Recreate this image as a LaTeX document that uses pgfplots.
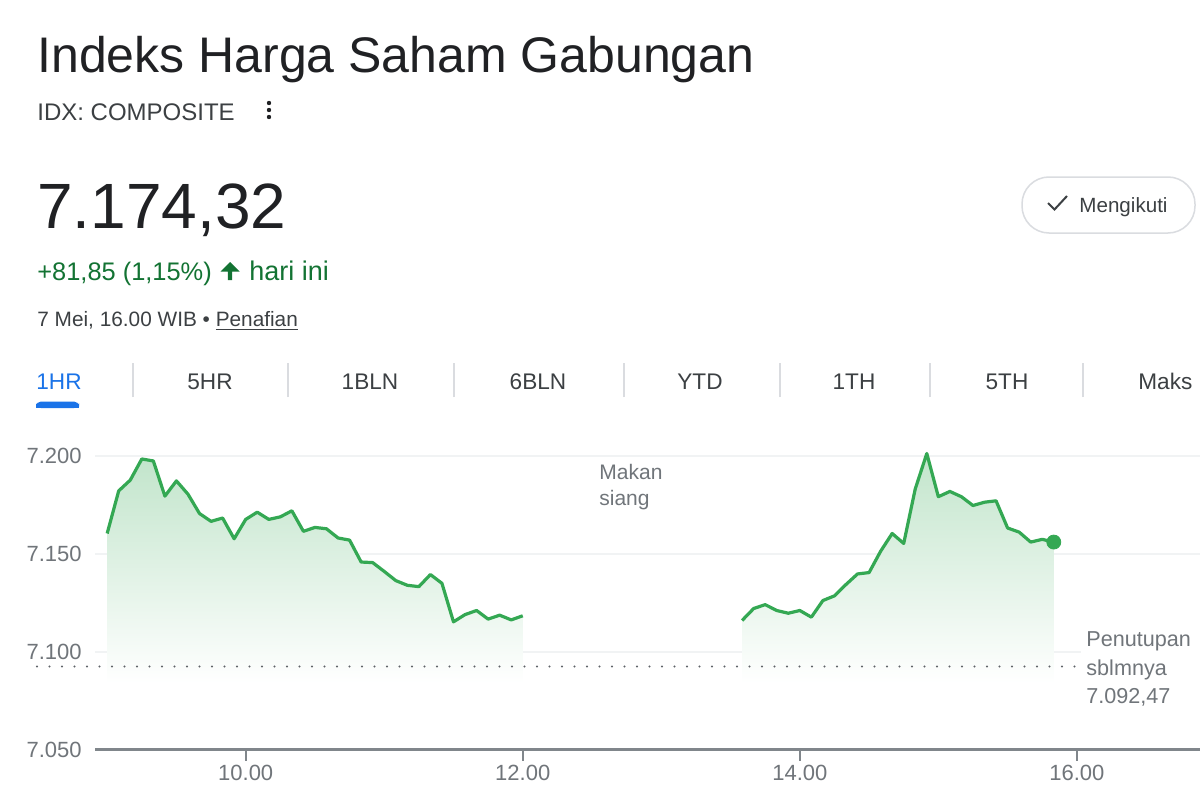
\documentclass[border=0pt]{standalone}
\usepackage{pgfplots}
\pgfplotsset{compat=1.18}
\usepackage{pgfplotstable}
\usepackage{fontspec}
\setmainfont{Liberation Sans}
\definecolor{gtitle}{HTML}{202124}
\definecolor{gdark}{HTML}{3C4043}
\definecolor{ggray}{HTML}{70757A}
\definecolor{gaxis}{HTML}{80868B}
\definecolor{ggreen}{HTML}{34A853}
\definecolor{gtextgreen}{HTML}{137333}
\definecolor{gblue}{HTML}{1A73E8}
\definecolor{gsep}{HTML}{DADCE0}
\definecolor{ggrid}{HTML}{F1F3F4}
\definecolor{gdot}{HTML}{5F6368}
\newcommand{\fs}[1]{\fontsize{#1}{#1}\selectfont}

% time in minutes since midnight, index value
\pgfplotstableread{
t v
540 7160.5
545 7182.3
550 7187.8
555 7198.6
560 7197.6
565 7179.6
570 7187.4
575 7180.6
580 7170.7
585 7166.7
590 7168.4
595 7157.8
600 7167.7
605 7171.4
610 7167.7
615 7169.0
620 7172.1
625 7161.6
630 7163.6
635 7162.9
640 7158.2
645 7157.1
650 7145.9
655 7145.6
660 7141.1
665 7136.4
670 7134.0
675 7133.3
680 7139.5
685 7135.0
690 7115.3
695 7119.0
700 7121.1
705 7116.7
710 7118.7
715 7116.3
720 7118.4
}\morning

\pgfplotstableread{
t v
815 7116.0
820 7122.1
825 7124.1
830 7121.1
835 7119.7
840 7121.1
845 7117.7
850 7126.2
855 7128.6
860 7134.4
865 7139.8
870 7140.5
875 7151.4
880 7160.5
885 7155.4
890 7183.3
895 7201.4
900 7179.3
905 7182.0
910 7179.3
915 7174.8
920 7176.5
925 7177.2
930 7163.3
935 7161.2
940 7156.1
945 7157.5
950 7156.1
}\afternoon

\begin{document}
\begin{tikzpicture}[x=0.5pt,y=0.5pt]
\fill[white] (0,0) rectangle (1200,800);
\path[use as bounding box] (0,0) rectangle (1200,800);

% header
\node[anchor=base west, inner sep=0, text=gtitle] at (37,727) {\fs{25pt}Indeks Harga Saham Gabungan};
\node[anchor=base west, inner sep=0, text=gdark] at (37,680) {\fs{12pt}IDX: COMPOSITE};
\foreach \yy in {697,690,683} \fill[gtitle] (269,\yy) circle (2.2);
\node[anchor=base west, inner sep=0, text=gtitle] at (37,572) {\fs{32pt}7.174,32};
\node[anchor=base west, inner sep=0, text=gtextgreen] at (37,520) {\fs{12.7pt}+81,85 (1,15\%)};
\fill[gtextgreen] (230,538) -- (239.5,528.5) -- (232.2,528.5) -- (232.2,520) -- (227.8,520) -- (227.8,528.5) -- (220.5,528.5) -- cycle;
\node[anchor=base west, inner sep=0, text=gtextgreen] at (249,520) {\fs{13.5pt}hari ini};
\node[anchor=base west, inner sep=0, text=gdark] at (37,474) {\fs{10.4pt}7 Mei, 16.00 WIB \textbullet{} \underline{Penafian}};

% follow button
\draw[gsep, line width=0.75pt, rounded corners=13.5pt] (1022,567) rectangle (1195,623);
\draw[gdark, line width=1pt] (1048,597) -- (1054.5,590.5) -- (1067,604);
\node[anchor=base west, inner sep=0, text=gdark] at (1079,588) {\fs{10.3pt}Mengikuti};

% tabs
\node[anchor=base west, inner sep=0, text=gblue] at (36,411) {\fs{11.3pt}1HR};
\foreach \xx/\lab in {210/5HR,370/1BLN,538/6BLN,700/YTD,854/1TH,1007/5TH}
  \node[anchor=base, inner sep=0, text=gdark] at (\xx,411) {\fs{11.3pt}\lab};
\node[anchor=base west, inner sep=0, text=gdark] at (1138,411) {\fs{11.3pt}Maks};
\foreach \xx in {133,288,454,624,780,930,1083}
  \draw[gsep, line width=0.75pt] (\xx,403) -- (\xx,437);
\fill[gblue, rounded corners=2.5pt] (36,392) rectangle (79,398.5);
\fill[gblue] (36,392) rectangle (79,395);

% chart
\begin{axis}[
  at={(47.5pt,25.25pt)}, anchor=south west,
  scale only axis, width=552.5pt, height=156.4pt,
  xmin=534.73, xmax=1013.33, ymin=7050, ymax=7210,
  clip=false,
  axis x line=bottom, axis y line=left,
  x axis line style={-, draw=gaxis, line width=1.2pt},
  y axis line style={draw=none},
  xtick={600,720,840,960},
  xticklabels={10.00,12.00,14.00,16.00},
  ytick={7050,7100,7150,7200},
  yticklabels={7.050,7.100,7.150,7.200},
  tick align=outside,
  major tick length=5.5pt,
  xtick style={draw=gaxis, line width=1pt},
  ytick style={draw=none},
  ticklabel style={font=\fs{11pt}, text=ggray},
  yticklabel style={anchor=east, inner sep=0pt, xshift=-1pt},
  xticklabel style={anchor=north, inner sep=0pt, yshift=-2pt},
  ymajorgrids, major grid style={draw=ggrid, line width=1pt},
]
\addplot[draw=none, top color=ggreen!30!white, bottom color=white]
  table[x=t, y=v] {\morning} -- (axis cs:720,7084) -- (axis cs:540,7084) -- cycle;
\addplot[draw=none, top color=ggreen!30!white, bottom color=white]
  table[x=t, y=v] {\afternoon} -- (axis cs:950,7084) -- (axis cs:815,7084) -- cycle;
\addplot[gdot, line width=1.2pt, line cap=round, dash pattern=on 0pt off 6.25pt]
  coordinates {(509.6,7092.47) (959,7092.47)};
\addplot[ggreen, line width=1.6pt, line join=round] table[x=t, y=v] {\morning};
\addplot[ggreen, line width=1.6pt, line join=round] table[x=t, y=v] {\afternoon};
\addplot[only marks, mark=*, mark size=3.5pt, ggreen] coordinates {(950,7156.1)};
\end{axis}

% annotations
\fill[white] (1081,88) rectangle (1200,175);
\node[anchor=base west, inner sep=0, text=ggray] at (599,321) {\fs{10.5pt}Makan};
\node[anchor=base west, inner sep=0, text=ggray] at (599,295) {\fs{10.5pt}siang};
\node[anchor=base west, inner sep=0, text=ggray] at (1086,154) {\fs{10.8pt}Penutupan};
\node[anchor=base west, inner sep=0, text=ggray] at (1086,125) {\fs{10.8pt}sblmnya};
\node[anchor=base west, inner sep=0, text=ggray] at (1086,97) {\fs{10.8pt}7.092,47};
\end{tikzpicture}
\end{document}
